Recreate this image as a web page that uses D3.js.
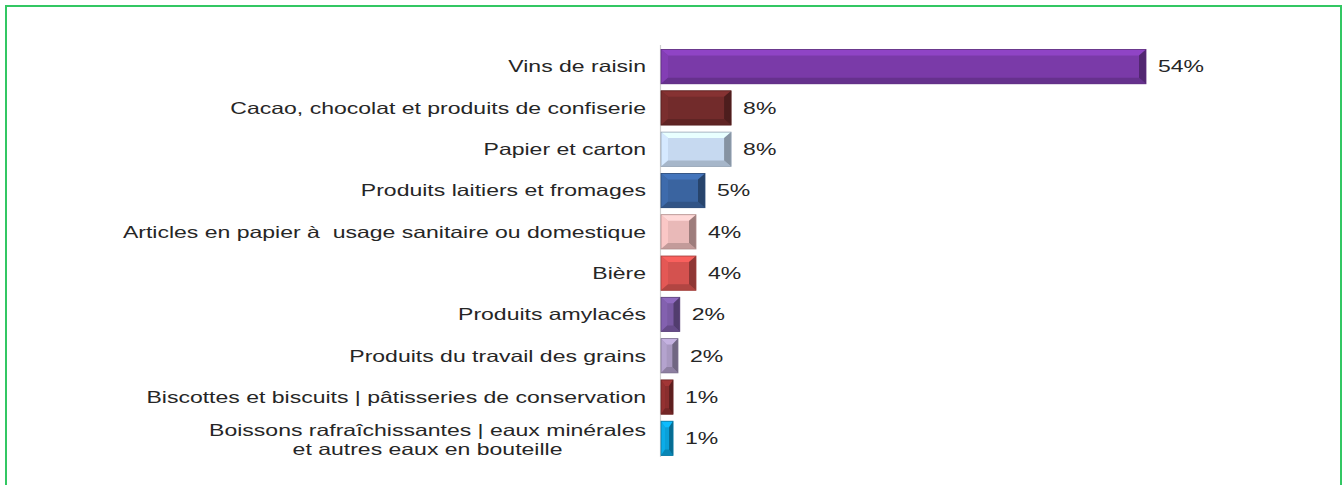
<!DOCTYPE html>
<html>
<head>
<meta charset="utf-8">
<script src="https://cdn.jsdelivr.net/npm/d3@7"></script>
<style>
  body { margin: 0; background: #fff; }
  svg { display: block; }
  text { font-family: "Liberation Sans", Arial, sans-serif; fill: #262626; }
</style>
</head>
<body>
<svg id="chart" width="1344" height="485"></svg>
<script>
// data (share of exports, %)
const categories = [
  ['Vins de raisin'],
  ['Cacao, chocolat et produits de confiserie'],
  ['Papier et carton'],
  ['Produits laitiers et fromages'],
  ['Articles en papier à\u00a0 usage sanitaire ou domestique'],
  ['Bière'],
  ['Produits amylacés'],
  ['Produits du travail des grains'],
  ['Biscottes et biscuits | pâtisseries de conservation'],
  ['Boissons rafraîchissantes | eaux minérales', 'et autres eaux en bouteille']
];
const values = [54, 7.9, 7.9, 5.0, 4.0, 4.0, 2.2, 2.0, 1.45, 1.45];
const labels = ['54%', '8%', '8%', '5%', '4%', '4%', '2%', '2%', '1%', '1%'];
const colors = ['#7a3aa8', '#722b2b', '#c6d9f0', '#3a64a0', '#e9b9b8',
                '#d4524f', '#7a5aa3', '#a898c0', '#8a2e2e', '#0aa0d8'];

const svg = d3.select('#chart');
const sx = 1.395;     // the text in the picture is stretched sideways
const fontSize = 16.5;

// frame
svg.append('rect')
  .attr('x', 6).attr('y', 6)
  .attr('width', 1335).attr('height', 500)
  .attr('fill', 'none')
  .attr('stroke', '#33c763')
  .attr('stroke-width', 2);

const x0 = 660;
const x = d3.scaleLinear().domain([0, 54]).range([x0, 1146]);
const y = d3.scaleBand()
  .domain(d3.range(categories.length))
  .range([46, 459])
  .paddingInner(0.17)
  .paddingOuter(0.085);

// axis line
svg.append('line')
  .attr('x1', x0 + 0.5).attr('x2', x0 + 0.5)
  .attr('y1', 45).attr('y2', 457)
  .attr('stroke', '#d0d0d0')
  .attr('stroke-width', 1.2);

// bevelled bars
const bars = svg.selectAll('.bar')
  .data(values)
  .join('g')
  .classed('bar', true);

bars.each(function(v, i) {
  const g = d3.select(this);
  const bx0 = x(0) + 1, bx1 = x(v);
  const by0 = y(i), by1 = y(i) + y.bandwidth();
  const w = bx1 - bx0;
  const bw = Math.min(7, w / 3), bh = 6;
  const c = d3.color(colors[i]);
  const poly = pts => pts.map(p => p.join(',')).join(' ');

  g.append('rect')
    .attr('x', bx0).attr('y', by0)
    .attr('width', w).attr('height', by1 - by0)
    .attr('fill', c);
  g.append('polygon')
    .attr('points', poly([[bx0, by0], [bx1, by0], [bx1 - bw, by0 + bh], [bx0 + bw, by0 + bh]]))
    .attr('fill', c.brighter(0.45));
  g.append('polygon')
    .attr('points', poly([[bx0, by0], [bx0 + bw, by0 + bh], [bx0 + bw, by1 - bh], [bx0, by1]]))
    .attr('fill', c.brighter(0.2));
  g.append('polygon')
    .attr('points', poly([[bx0, by1], [bx1, by1], [bx1 - bw, by1 - bh], [bx0 + bw, by1 - bh]]))
    .attr('fill', c.darker(0.5));
  g.append('polygon')
    .attr('points', poly([[bx1, by0], [bx1 - bw, by0 + bh], [bx1 - bw, by1 - bh], [bx1, by1]]))
    .attr('fill', c.darker(1.1));
  g.append('rect')
    .attr('x', bx0).attr('y', by0)
    .attr('width', w).attr('height', by1 - by0)
    .attr('fill', 'none')
    .attr('stroke', c.darker(0.8))
    .attr('stroke-width', 0.8);
});

// category labels
const cat = svg.selectAll('.cat')
  .data(categories)
  .join('g')
  .classed('cat', true)
  .attr('transform', (d, i) => `translate(646,${y(i) + y.bandwidth() / 2}) scale(${sx},1)`);

cat.each(function(lines) {
  const g = d3.select(this);
  if (lines.length === 1) {
    g.append('text')
      .attr('text-anchor', 'end')
      .attr('dy', '0.35em')
      .style('font-size', fontSize + 'px')
      .text(lines[0]);
  } else {
    const t = g.selectAll('text')
      .data(lines)
      .join('text')
      .attr('dy', (d, k) => (k - (lines.length - 1) / 2) * 19 + 7.5)
      .style('font-size', fontSize + 'px')
      .text(d => d);
    const maxW = d3.max(t.nodes(), n => n.getComputedTextLength());
    t.attr('text-anchor', 'middle').attr('x', -maxW / 2);
  }
});

// value labels
svg.selectAll('.val')
  .data(values)
  .join('g')
  .classed('val', true)
  .attr('transform', (d, i) => `translate(${x(d) + 12},${y(i) + y.bandwidth() / 2}) scale(${sx},1)`)
  .append('text')
  .attr('dy', '0.35em')
  .style('font-size', fontSize + 'px')
  .text((d, i) => labels[i]);
</script>
</body>
</html>
